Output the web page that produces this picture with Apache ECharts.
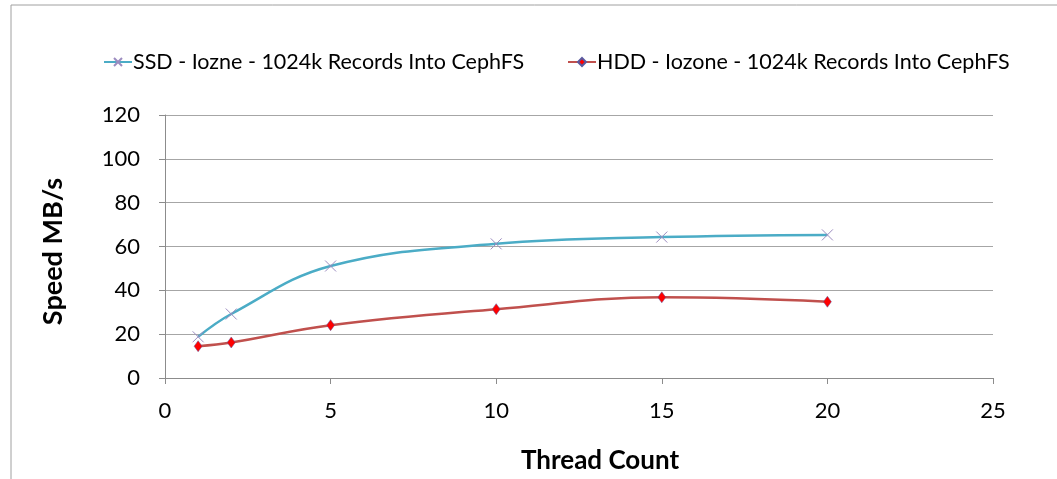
<!DOCTYPE html>
<html>
<head>
<meta charset="utf-8">
<script src="https://cdn.jsdelivr.net/npm/echarts@6/dist/echarts.min.js"></script>
<style>
  html, body { margin: 0; padding: 0; background: #fff; }
  #chart { width: 1057px; height: 479px; }
</style>
</head>
<body>
<div id="chart"></div>
<script>
// values
var threads = [1, 2, 5, 10, 15, 20];
var ssdSpeed = [18.8, 29.2, 51.1, 61.2, 64.3, 65.3];
var hddSpeed = [14.5, 16.2, 24.1, 31.4, 36.8, 34.8];
var ssdName = 'SSD - Iozne - 1024k Records Into CephFS';
var hddName = 'HDD - Iozone - 1024k Records Into CephFS';

function pairs(xs, ys) {
	var out = [];
	for (var i = 0; i < xs.length; i++) out.push([xs[i], ys[i]]);
	return out;
}

var font = 'Lato, "Open Sans", sans-serif';
var legendText = { fontSize: 21.5, color: '#000', fontFamily: font, padding: [0, 0, 0, -4] };
var myChart = echarts.init(document.getElementById('chart'));
var option = {
	backgroundColor: '#fff',
	animation: false,
	textStyle: { fontFamily: font },
	graphic: [{
		type: 'rect',
		shape: { x: 11, y: 5, width: 1100, height: 600 },
		style: { fill: 'none', stroke: '#a0a0a0', lineWidth: 1 },
		silent: true
	}],
	legend: [{
		top: 46,
		left: 98,
		itemWidth: 28,
		itemHeight: 10,
		textStyle: legendText,
		data: [ssdName]
	}, {
		top: 46,
		left: 562,
		itemWidth: 28,
		itemHeight: 10,
		textStyle: legendText,
		data: [hddName]
	}],
	grid: {
		left: 165,
		right: 64,
		top: 115,
		bottom: 101
	},
	xAxis: {
		type: 'value',
		min: 0,
		max: 25,
		interval: 5,
		name: 'Thread Count',
		nameLocation: 'middle',
		nameGap: 70,
		nameTextStyle: { fontSize: 26, fontWeight: 'bold', color: '#000', padding: [0, 0, 0, 42] },
		axisLine: { show: true, lineStyle: { color: '#8c8c8c' } },
		axisTick: { show: true, length: 6, lineStyle: { color: '#8c8c8c' } },
		axisLabel: { fontSize: 22, color: '#000', margin: 22 },
		splitLine: { show: false }
	},
	yAxis: {
		type: 'value',
		min: 0,
		max: 120,
		interval: 20,
		name: 'Speed MB/s',
		nameLocation: 'middle',
		nameGap: 98,
		nameTextStyle: { fontSize: 27, fontWeight: 'bold', color: '#000', padding: [0, 10, 0, 0] },
		axisLine: { show: true, lineStyle: { color: '#8c8c8c' } },
		axisTick: { show: true, length: 6, lineStyle: { color: '#8c8c8c' } },
		axisLabel: { fontSize: 22, color: '#000', margin: 25 },
		splitLine: { show: true, lineStyle: { color: '#a6a6a6', width: 1 } }
	},
	series: [{
		name: ssdName,
		type: 'line',
		smooth: 0.4,
		data: pairs(threads, ssdSpeed),
		symbol: 'path://M0,0L10,10M10,0L0,10',
		symbolSize: 11,
		lineStyle: { color: '#4bacc6', width: 2.5 },
		itemStyle: { color: '#9c8cc0', borderColor: '#9c8cc0', borderWidth: 1 }
	}, {
		name: hddName,
		type: 'line',
		smooth: 0.4,
		data: pairs(threads, hddSpeed),
		symbol: 'diamond',
		symbolSize: [8, 11],
		lineStyle: { color: '#c0504d', width: 2.5 },
		itemStyle: { color: '#ff0000', borderColor: '#5a5aa0', borderWidth: 0.5 }
	}]
};

if (option && typeof option === "object") {
	myChart.setOption(option, true);
}
</script>
</body>
</html>
